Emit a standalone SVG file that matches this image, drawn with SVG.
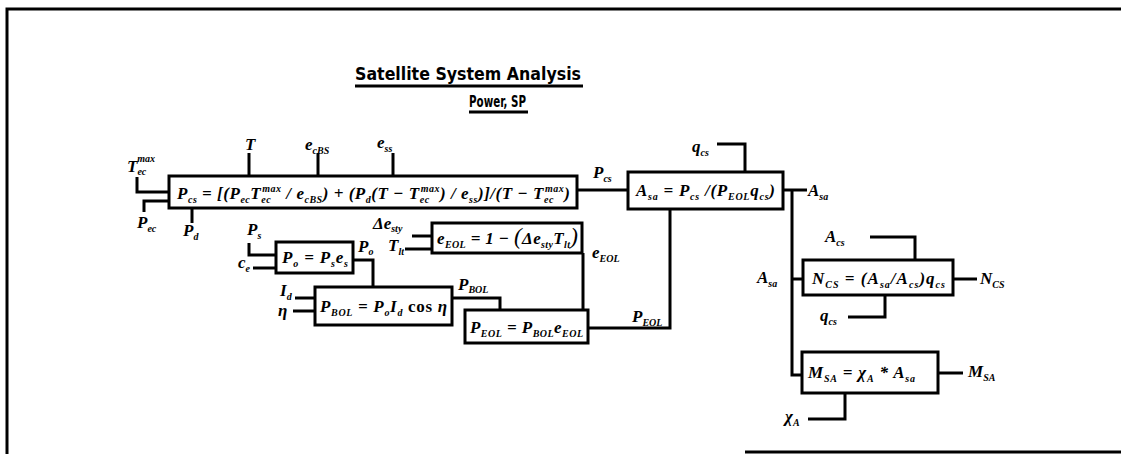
<svg xmlns="http://www.w3.org/2000/svg" width="1121" height="454" viewBox="0 0 1121 454">
<style>
.f{font-family:"Liberation Serif","Times New Roman",serif;font-style:italic;font-weight:bold;font-size:17px;fill:#000}
.s{font-size:10px}
.u{font-style:normal}
.b{font-size:23px;font-weight:normal}
.box{fill:#fff;stroke:#000;stroke-width:3}
.c{fill:none;stroke:#000;stroke-width:3}
.t{font-family:"Liberation Sans Narrow","DejaVu Sans Condensed","Liberation Sans",sans-serif;font-weight:bold;fill:#000}
</style>
<rect width="1121" height="454" fill="#fff"/>
<g id="frame">
<path class="c" d="M7,454 V9 H1121"/>
<line class="c" x1="745" y1="452" x2="1121" y2="452"/>
</g>
<g id="title">
<text class="t" x="355" y="80" font-size="18" textLength="226" lengthAdjust="spacingAndGlyphs">Satellite System Analysis</text>
<line class="c" x1="355" y1="86" x2="583" y2="86"/>
<text class="t" x="469" y="107" font-size="16" textLength="57" lengthAdjust="spacingAndGlyphs">Power, SP</text>
<line class="c" x1="469" y1="112" x2="528" y2="112"/>
</g>
<g id="connectors">
<path class="c" d="M137,177 V192 H169"/>
<path class="c" d="M144,212 V201 H169"/>
<path class="c" d="M192,208 V223"/>
<path class="c" d="M249,153 V176"/>
<path class="c" d="M318,153 V176"/>
<path class="c" d="M393,153 V176"/>
<path class="c" d="M577,190 H628"/>
<path class="c" d="M717,144 H745 V172"/>
<path class="c" d="M783,190 H807"/>
<path class="c" d="M792,190 V375 H802"/>
<path class="c" d="M792,279 H803"/>
<path class="c" d="M870,237 H915 V260"/>
<path class="c" d="M953,279 H977"/>
<path class="c" d="M885,295 V317 H848"/>
<path class="c" d="M938,373 H963"/>
<path class="c" d="M845,393 V419 H808"/>
<path class="c" d="M670,209 V328 H588"/>
<path class="c" d="M583,253 V310"/>
<path class="c" d="M452,298 H500 V310"/>
<path class="c" d="M249,243 V255 H276"/>
<path class="c" d="M253,268 H276"/>
<path class="c" d="M353,260 H373 V287"/>
<path class="c" d="M295,298 H315"/>
<path class="c" d="M293,311 H315"/>
<path class="c" d="M412,236 H432"/>
<path class="c" d="M405,249 H432"/>
</g>
<g id="labels" class="f">
<text x="127" y="172">T<tspan class="s" dy="3">ec</tspan><tspan class="s" dx="-9" dy="-13">max</tspan></text>
<text x="137" y="228">P<tspan class="s" dy="4">ec</tspan></text>
<text x="183" y="236">P<tspan class="s" dy="4">d</tspan></text>
<text x="245" y="150">T</text>
<text x="305" y="150">e<tspan class="s" dy="4">cBS</tspan></text>
<text x="377" y="148">e<tspan class="s" dy="4">ss</tspan></text>
<text x="593" y="178">P<tspan class="s" dy="4">cs</tspan></text>
<text x="692" y="152">q<tspan class="s" dy="4">cs</tspan></text>
<text x="808" y="196">A<tspan class="s" dy="4">sa</tspan></text>
<text x="757" y="283">A<tspan class="s" dy="4">sa</tspan></text>
<text x="825" y="242">A<tspan class="s" dy="4">cs</tspan></text>
<text x="980" y="284">N<tspan class="s" dy="4">CS</tspan></text>
<text x="820" y="321">q<tspan class="s" dy="4">cs</tspan></text>
<text x="968" y="377">M<tspan class="s" dy="4">SA</tspan></text>
<text x="785" y="422">χ<tspan class="s" dy="4">A</tspan></text>
<text x="632" y="322">P<tspan class="s" dy="4">EOL</tspan></text>
<text x="592" y="258">e<tspan class="s" dy="4">EOL</tspan></text>
<text x="458" y="290">P<tspan class="s" dy="3">BOL</tspan></text>
<text x="373" y="229">Δe<tspan class="s" dy="3">sty</tspan></text>
<text x="388" y="251">T<tspan class="s" dy="4">lt</tspan></text>
<text x="247" y="235">P<tspan class="s" dy="4">s</tspan></text>
<text x="238" y="268">c<tspan class="s" dy="4">e</tspan></text>
<text x="358" y="252">P<tspan class="s" dy="3">o</tspan></text>
<text x="280" y="296">I<tspan class="s" dy="4">d</tspan></text>
<text x="278" y="316">η</text>
</g>
<g id="node-pcs">
<rect class="box" x="169" y="176" width="408" height="32"/>
<text class="f" x="177" y="199" textLength="393" lengthAdjust="spacing">P<tspan class="s" dy="4">cs</tspan><tspan dy="-4"> = [(P</tspan><tspan class="s" dy="4">ec</tspan><tspan dy="-4">T</tspan><tspan class="s" dy="4">ec</tspan><tspan class="s" dx="-9" dy="-11">max</tspan><tspan dy="7"> / e</tspan><tspan class="s" dy="4">cBS</tspan><tspan dy="-4">) + (P</tspan><tspan class="s" dy="4">d</tspan><tspan dy="-4">(T − T</tspan><tspan class="s" dy="4">ec</tspan><tspan class="s" dx="-9" dy="-11">max</tspan><tspan dy="7">) / e</tspan><tspan class="s" dy="4">ss</tspan><tspan dy="-4">)]/(T − T</tspan><tspan class="s" dy="4">ec</tspan><tspan class="s" dx="-9" dy="-11">max</tspan><tspan dy="7">)</tspan></text>
</g>
<g id="node-asa">
<rect class="box" x="628" y="172" width="155" height="37"/>
<text class="f" x="636" y="196" textLength="139" lengthAdjust="spacing">A<tspan class="s" dy="4">sa</tspan><tspan dy="-4"> = P</tspan><tspan class="s" dy="4">cs</tspan><tspan dy="-4"> /(P</tspan><tspan class="s" dy="4">EOL</tspan><tspan dy="-4">q</tspan><tspan class="s" dy="4">cs</tspan><tspan dy="-4">)</tspan></text>
</g>
<g id="node-eeol">
<rect class="box" x="432" y="223" width="150" height="30"/>
<text class="f" x="437" y="244" textLength="141" lengthAdjust="spacing">e<tspan class="s" dy="4">EOL</tspan><tspan dy="-4"> = 1 − </tspan><tspan class="b">(</tspan>Δe<tspan class="s" dy="4">sty</tspan><tspan dy="-4">T</tspan><tspan class="s" dy="4">lt</tspan><tspan class="b" dy="-4">)</tspan></text>
</g>
<g id="node-ps">
<rect class="box" x="276" y="242" width="77" height="31"/>
<text class="f" x="282" y="263" textLength="66" lengthAdjust="spacing">P<tspan class="s" dy="4">o</tspan><tspan dy="-4"> = P</tspan><tspan class="s" dy="4">s</tspan><tspan dy="-4">e</tspan><tspan class="s" dy="4">s</tspan></text>
</g>
<g id="node-pbol">
<rect class="box" x="315" y="287" width="137" height="38"/>
<text class="f" x="320" y="312" textLength="127" lengthAdjust="spacing">P<tspan class="s" dy="4">BOL</tspan><tspan dy="-4"> = P</tspan><tspan class="s" dy="4">o</tspan><tspan dy="-4">I</tspan><tspan class="s" dy="4">d</tspan><tspan class="u" dy="-4"> cos </tspan>η</text>
</g>
<g id="node-peol">
<rect class="box" x="465" y="310" width="123" height="33"/>
<text class="f" x="470" y="333" textLength="113" lengthAdjust="spacing">P<tspan class="s" dy="4">EOL</tspan><tspan dy="-4"> = P</tspan><tspan class="s" dy="4">BOL</tspan><tspan dy="-4">e</tspan><tspan class="s" dy="4">EOL</tspan></text>
</g>
<g id="node-ncs">
<rect class="box" x="803" y="260" width="150" height="35"/>
<text class="f" x="812" y="284" textLength="133" lengthAdjust="spacing">N<tspan class="s" dy="4">CS</tspan><tspan dy="-4"> = (A</tspan><tspan class="s" dy="4">sa</tspan><tspan dy="-4">/A</tspan><tspan class="s" dy="4">cs</tspan><tspan dy="-4">)q</tspan><tspan class="s" dy="4">cs</tspan></text>
</g>
<g id="node-msa">
<rect class="box" x="802" y="352" width="136" height="41"/>
<text class="f" x="808" y="378" textLength="107" lengthAdjust="spacing">M<tspan class="s" dy="4">SA</tspan><tspan dy="-4"> = χ</tspan><tspan class="s" dy="4">A</tspan><tspan dy="-4"> * A</tspan><tspan class="s" dy="4">sa</tspan></text>
</g>
</svg>
